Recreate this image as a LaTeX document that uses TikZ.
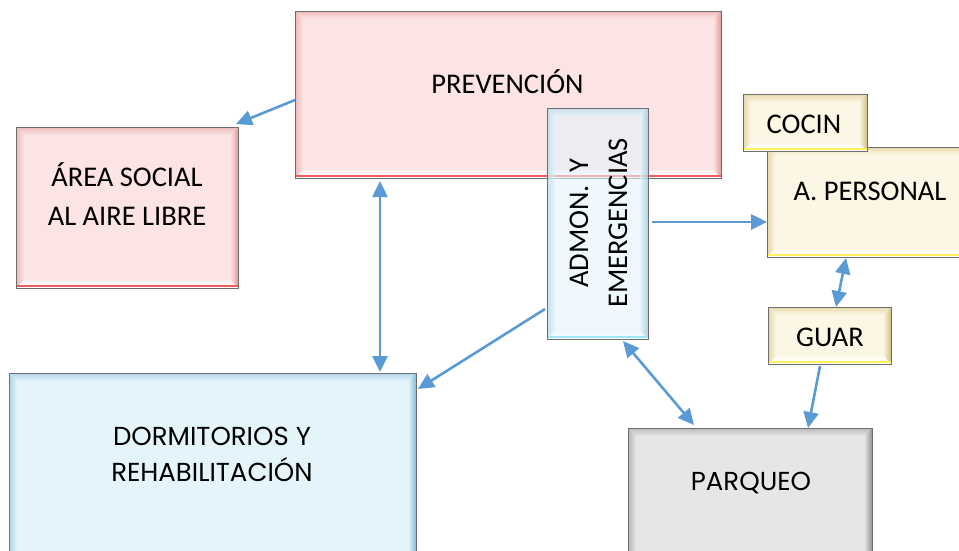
\documentclass[tikz,border=0pt]{standalone}
\usepackage{fontspec}
\setmainfont{Carlito}
\newfontfamily\gothic{Poppins}
\usetikzlibrary{arrows.meta}
\definecolor{arrowblue}{HTML}{5B9BD5}
\definecolor{pinkf}{HTML}{FCE4E4}
\definecolor{pinkd}{HTML}{E39A9A}
\definecolor{pinkl}{HTML}{F25C5C}
\definecolor{bluef}{HTML}{E4F4FB}
\definecolor{blued}{HTML}{86BCD6}
\definecolor{bluel}{HTML}{9EE6F5}
\definecolor{yelf}{HTML}{FCF6E4}
\definecolor{yeld}{HTML}{D2C083}
\definecolor{yell}{HTML}{FFEF5A}
\definecolor{grayf}{HTML}{E6E6E6}
\definecolor{grayd}{HTML}{959595}
\definecolor{grayl}{HTML}{CFCFCF}
\definecolor{edgec}{HTML}{6E6E6E}
\tikzset{
  bevelbox/.style n args={3}{draw=edgec, line width=1pt, fill=#1, inner sep=0pt, outer sep=0pt,
    path picture={
      \path (path picture bounding box.north west) coordinate (bnw)
            (path picture bounding box.north east) coordinate (bne)
            (path picture bounding box.south west) coordinate (bsw)
            (path picture bounding box.south east) coordinate (bse);
      \shade[top color=#2!55!#1, bottom color=#1] (bnw) -- (bne) -- ([xshift=-8pt,yshift=-8pt]bne) -- ([xshift=8pt,yshift=-8pt]bnw) -- cycle;
      \shade[left color=#2!60!#1, right color=#1] (bnw) -- ([xshift=8pt,yshift=-8pt]bnw) -- ([xshift=8pt,yshift=8pt]bsw) -- (bsw) -- cycle;
      \shade[left color=#1, right color=#2] (bne) -- (bse) -- ([xshift=-8pt,yshift=8pt]bse) -- ([xshift=-8pt,yshift=-8pt]bne) -- cycle;
      \shade[top color=#1!60!white, bottom color=white] (bsw) -- ([xshift=8pt,yshift=8pt]bsw) -- ([xshift=-8pt,yshift=8pt]bse) -- (bse) -- cycle;
      \draw[#3, line width=2.5pt] ([yshift=1.8pt]bsw) -- ([yshift=1.8pt]bse);
    }},
  txt/.style={font=\fontsize{28.5}{34}\selectfont, anchor=base, inner sep=0pt, text=black},
  gtxt/.style={font=\gothic\fontsize{26}{32}\selectfont, anchor=base, inner sep=0pt, text=black},
  arr/.style={-{Triangle[length=16pt,width=15pt]}, line width=2.6pt, draw=arrowblue},
  darr/.style={{Triangle[length=16pt,width=15pt]}-{Triangle[length=16pt,width=15pt]}, line width=2.6pt, draw=arrowblue},
}
\begin{document}
\begin{tikzpicture}[x=1pt,y=-1pt]
\useasboundingbox (0,0) rectangle (959,550);
\clip (0,0) rectangle (959,550);
% boxes
\node[bevelbox={pinkf}{pinkd}{pinkl}, minimum width=222pt, minimum height=161pt] (area) at (127,207.5) {};
\node[bevelbox={bluef}{blued}{bluel}, minimum width=407pt, minimum height=207pt] (dorm) at (212.5,476.5) {};
\node[bevelbox={grayf}{grayd}{grayl}, minimum width=244pt, minimum height=152pt] (parq) at (750,504) {};
\node[bevelbox={pinkf}{pinkd}{pinkl}, minimum width=426pt, minimum height=167pt] (prev) at (508,94.5) {};
\node[bevelbox={bluef}{blued}{bluel}, minimum width=101pt, minimum height=231pt, fill opacity=0.6] (admon) at (597.5,223.5) {};
\node[bevelbox={yelf}{yeld}{yell}, minimum width=206pt, minimum height=110pt] (apers) at (870,202) {};
\node[bevelbox={yelf}{yeld}{yell}, minimum width=124pt, minimum height=57pt] (cocin) at (805,122.5) {};
\node[bevelbox={yelf}{yeld}{yell}, minimum width=123pt, minimum height=57pt] (guar) at (829.5,335.5) {};
% texts
\node[txt] (prevt) at (507.5,93) {PREVENCIÓN};
\node[txt] (areat1) at (127,186.7) {ÁREA SOCIAL};
\node[txt] (areat2) at (127,225) {AL AIRE LIBRE};
\node[gtxt] (dormt1) at (212,445) {DORMITORIOS Y};
\node[gtxt] (dormt2) at (212,481) {REHABILITACIÓN};
\node[gtxt] (parqt) at (751,490.5) {PARQUEO};
\node[txt] (aperst) at (870,200) {A. PERSONAL};
\node[txt] (cocint) at (804,133) {COCIN};
\node[txt] (guart) at (830,346.5) {GUAR};
\node[txt, rotate=90] (admont1) at (588,223) {ADMON.\ \ Y};
\node[txt, rotate=90] (admont2) at (627,223) {EMERGENCIAS};
% connectors
\draw[arr] ([yshift=-5.5pt]prev.west) -- ([xshift=-2pt,yshift=3pt]area.north east);
\draw[darr] ([xshift=-128pt,yshift=-3pt]prev.south) -- ([xshift=167.5pt,yshift=1pt]dorm.north);
\draw[arr] ([xshift=-2pt,yshift=-85.5pt]admon.west) -- ([xshift=2pt,yshift=-16pt]dorm.north east);
\draw[arr] ([xshift=4pt,yshift=1.5pt]admon.east) -- ([yshift=-20pt]apers.west);
\draw[darr] ([xshift=-24pt,yshift=-1pt]apers.south) -- ([xshift=6.5pt]guar.north);
\draw[arr] ([xshift=-9.5pt,yshift=-2pt]guar.south) -- ([xshift=58pt]parq.north);
\draw[darr] ([xshift=25.5pt,yshift=-2pt]admon.south) -- ([xshift=-56pt,yshift=3pt]parq.north);
\end{tikzpicture}
\end{document}
